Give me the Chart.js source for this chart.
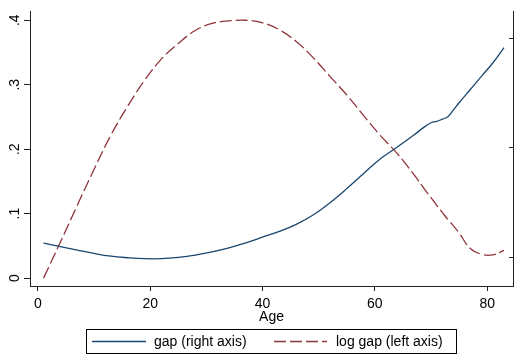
<!DOCTYPE html>
<html>
<head>
<meta charset="utf-8">
<style>
  html, body { margin: 0; padding: 0; background: #fff; }
  #wrap { width: 515px; height: 355px; }
</style>
</head>
<body>
<div id="wrap"><canvas id="gapChart"></canvas></div>
<script src="https://cdn.jsdelivr.net/npm/chart.js"></script>
<script>
const ages = [1, 4, 7, 10, 13, 16, 19, 22, 25, 28, 31, 34, 37, 40, 43, 46, 49, 52, 55, 58, 61, 64, 67, 69, 70, 71, 72, 73, 74, 75, 77, 79, 81, 83];

// gap, plotted against the right axis
const gap = [1.129, 1.098, 1.066, 1.035, 1.010, 0.996, 0.987, 0.987, 0.999, 1.020, 1.050, 1.087, 1.132, 1.184,
  1.237, 1.301, 1.386, 1.498, 1.627, 1.765, 1.899, 2.006, 2.118, 2.197, 2.228, 2.240, 2.260, 2.283, 2.345,
  2.410, 2.531, 2.653, 2.773, 2.913];

// log gap, plotted against the left axis
const logGap = [0.000, 0.056, 0.113, 0.169, 0.222, 0.267, 0.307, 0.340, 0.364, 0.384, 0.395, 0.399, 0.400, 0.396,
  0.385, 0.367, 0.342, 0.313, 0.284, 0.252, 0.221, 0.193, 0.160, 0.136, 0.125, 0.113, 0.102, 0.091, 0.081,
  0.070, 0.046, 0.037, 0.036, 0.043];

const leftTicks = [0, 0.1, 0.2, 0.3, 0.4];
const rightTicks = [1, 2, 3];
const ageTicks = [0, 20, 40, 60, 80];

const FONT = '"Liberation Sans", Arial, Helvetica, sans-serif';
const AXIS = '#222';

Chart.defaults.font.family = FONT;
Chart.defaults.font.size = 14;
Chart.defaults.color = '#000';

// boxed legend under the axis title, drawn from the dataset styles
const boxLegend = {
  id: 'boxLegend',
  afterDraw(chart) {
    const ctx = chart.ctx;
    const ds = chart.data.datasets;
    const y = 341.5;
    const items = [
      { x0: 92, x1: 146, tx: 154 },
      { x0: 274, x1: 327, tx: 336 }
    ];
    ctx.save();
    ctx.strokeStyle = '#000';
    ctx.lineWidth = 1;
    ctx.strokeRect(86.5, 329.5, 370, 24);
    ctx.font = '14px ' + FONT;
    ctx.textBaseline = 'middle';
    ctx.fillStyle = '#000';
    items.forEach((it, i) => {
      ctx.beginPath();
      ctx.strokeStyle = ds[i].borderColor;
      ctx.lineWidth = ds[i].borderWidth;
      ctx.setLineDash(ds[i].borderDash || []);
      ctx.moveTo(it.x0, y);
      ctx.lineTo(it.x1, y);
      ctx.stroke();
      ctx.setLineDash([]);
      ctx.fillText(ds[i].label, it.tx, y + 1);
    });
    ctx.restore();
  }
};

new Chart(document.getElementById('gapChart'), {
  type: 'line',
  data: {
    datasets: [{
      label: 'gap (right axis)',
      data: ages.map((a, i) => ({ x: a, y: gap[i] })),
      yAxisID: 'y1',
      borderColor: '#1a476f',
      borderWidth: 1.3,
      pointRadius: 0,
      tension: 0.4
    }, {
      label: 'log gap (left axis)',
      data: ages.map((a, i) => ({ x: a, y: logGap[i] })),
      yAxisID: 'y',
      borderColor: '#90353b',
      borderWidth: 1.3,
      borderDash: [12, 4],
      pointRadius: 0,
      tension: 0.4
    }]
  },
  options: {
    responsive: true,
    maintainAspectRatio: false,
    devicePixelRatio: 1,
    animation: false,
    layout: { padding: { top: 6, bottom: 28, left: 0, right: 0 } },
    plugins: {
      legend: { display: false },
      tooltip: { enabled: false }
    },
    scales: {
      x: {
        type: 'linear',
        min: -1.42,
        max: 84.6,
        afterBuildTicks: s => { s.ticks = ageTicks.map(v => ({ value: v })); },
        afterFit: s => { s.height = 41; },
        ticks: { padding: 5, color: '#000' },
        grid: { drawOnChartArea: false, tickLength: 5, color: AXIS },
        border: { color: AXIS, width: 1 },
        title: { display: true, text: 'Age', color: '#000', padding: { top: 0, bottom: 1 } }
      },
      y: {
        position: 'left',
        min: -0.0122,
        max: 0.4137,
        afterBuildTicks: s => { s.ticks = leftTicks.map(v => ({ value: v })); },
        afterFit: s => { s.width = 30; },
        ticks: {
          minRotation: 90,
          maxRotation: 90,
          crossAlign: 'center',
          padding: 3,
          color: '#000',
          callback: v => v === 0 ? '0' : String(Math.round(v * 10) / 10).replace(/^0\./, '.')
        },
        grid: { drawOnChartArea: false, tickLength: 6, color: AXIS },
        border: { color: AXIS, width: 1 }
      },
      y1: {
        position: 'right',
        min: 0.738,
        max: 3.244,
        afterBuildTicks: s => { s.ticks = rightTicks.map(v => ({ value: v })); },
        afterFit: s => { s.width = 2; },
        ticks: { display: false },
        grid: { drawOnChartArea: false, tickLength: -4, color: AXIS },
        border: { color: AXIS, width: 1 }
      }
    }
  },
  plugins: [boxLegend]
});
</script>
</body>
</html>
